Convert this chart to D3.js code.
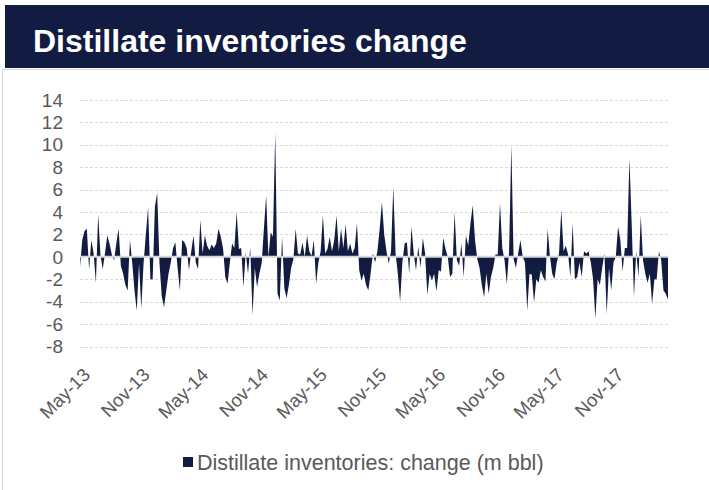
<!DOCTYPE html>
<html lang="en">
<head>
  <meta charset="UTF-8">
  <title>Distillate inventories change</title>
  <script src="https://d3js.org/d3.v7.min.js"></script>
  <style>
    body {
      margin: 0;
      background: #fff;
      font-family: "Liberation Sans", Arial, sans-serif;
    }
    svg { display: block; }
    .grid line { stroke: #d9d9d9; stroke-dasharray: 3,2; }
    .tick-label { fill: #595959; }
  </style>
</head>
<body>
  <div id="chart"></div>

  <script>
    // Weekly change in US distillate stocks, m bbl (first week: 12 Apr 2013)
    const weeks2013 = [-0.9, 1.5, 2.3, 2.5, -1.1, 1.5, 0.3, -2.3, 3.8, 0.2, -1.1, 0.3, 1.9, 1.2, 0.2, -0.3, 1.2, 2.5, -0.8, -1.5,
      -2.5, -3, 1.5, -0.5, -3, -4.8, -0.6, -4.6, -0.6, 2, 4.4, -2, -2, 4.5, 5.7, -0.5, -3.5, -4.5];
    const weeks2014 = [-3, -1.5, -0.5, 0.8, 1.3, -1, -3, 1.5, 1.3, 0.8, -1.2, 0.5, 1.9, -0.5, -1.1, 3.3, 0.3, 1.9, 1.0, 0.6,
      1.1, 0.8, 1.2, 2.5, 1.8, 0.8, -1.8, -2.4, -0.5, 1.2, 0.8, 4.0, 0.7, 0.8, -2.7, 0.4, -1.5, 0.8, -5.2, -1,
      -2.7, -1.5, -0.6, 2.5, 5.5, 0, 2.2, 1.8, 11.1, -3.3, -3.9, 1.8];
    const weeks2015 = [-2.8, -3.7, -2.5, -1, -0.2, 2.5, 0.3, 0.2, 1.25, 0, 1.9, 0.5, 0.1, 1.5, -2.4, -0.5, 0.5, 3.7, 0.3, 0.7,
      1.8, 0.5, 1.5, 3.7, 0.5, 2.5, 0.8, 2.9, 0.5, 1.2, 0.3, 0.8, 3.0, -1.2, -2.1, -1.5, -2.5, -3, -1.5, 0.3,
      -0.5, 0.5, 2.5, 4.9, 2, 0.5, -0.6, 0.5, 6.25, 0.3, -1.5, -4];
    const weeks2016 = [-0.5, 1.2, 1.3, -1.5, 2.7, 0.3, -1.2, 0.9, -1, 1.7, 0.3, -3.4, -1.5, -2.1, -1.5, -3.1, -1.2, -1.3, 1.7, 0.7,
      0, -1.8, -1.5, 4, -0.3, -0.8, 1.2, -1.8, 1.9, 1.0, 3, 4.6, 1.5, -0.2, -1, -2.5, -3.6, -1.5, -3.3, -1.8,
      -1, 0.2, 0.2, 4.8, 0.8, -0.3, -2.4, 0.5, 10, -0.2, -1, 0.3, 1.5];
    const weeks2017 = [0, -0.5, -4.8, -1.5, -1.6, -4.1, -2, -2.3, -1.2, -1.8, -2.2, 2.5, 0, -1.5, -2, -0.5, 0.3, 4.2, 0.5, 1,
      0.2, -1.8, 3, -2, -1.8, -0.5, -1.8, 0.5, 0.3, 0.5, -0.5, -2, -5.5, -2, -2.5, -1, 0.3, -5.1, -1, -3,
      -0.5, 0, 2.7, 1.5, -1.3, 0.8, 0.8, 8.8, 3, -3.6, 0.5, -1.8];
    const weeks2018 = [3.7, -0.3, -1.5, -2.3, -1.5, -4.2, -2, -2, 0.5, -0.3, -3, -3.3, -3.8];

    const tickLabels = ["May-13", "Nov-13", "May-14", "Nov-14", "May-15", "Nov-15", "May-16", "Nov-16", "May-17", "Nov-17"];
    const yTicks = [-8, -6, -4, -2, 0, 2, 4, 6, 8, 10, 12, 14];

    const title = "Distillate inventories change";
    const seriesName = "Distillate inventories: change (m bbl)";

    const width = 709;
    const height = 490;
    const navy = "#121c42";

    const firstWeek = new Date(2013, 3, 12);
    const values = [].concat(weeks2013, weeks2014, weeks2015, weeks2016, weeks2017, weeks2018);
    const data = values.map((v, i) => ({ date: d3.timeDay.offset(firstWeek, i * 7), value: v }));

    const svg = d3.select("#chart")
      .append("svg")
      .attr("width", width)
      .attr("height", height);

    // frame + title bar
    svg.append("path")
      .attr("d", "M2.5,490 V69.5 H709")
      .attr("fill", "none")
      .attr("stroke", "#d9d9d9");

    svg.append("rect")
      .attr("x", 5)
      .attr("y", 5)
      .attr("width", width - 5)
      .attr("height", 63)
      .attr("fill", navy);

    svg.append("text")
      .attr("x", 33)
      .attr("y", 52)
      .attr("fill", "#fff")
      .attr("font-size", "32px")
      .attr("font-weight", "bold")
      .text(title);

    // scales
    const x = d3.scaleTime()
      .domain(d3.extent(data, d => d.date))
      .range([80, 668]);

    const y = d3.scaleLinear()
      .domain([-8, 14])
      .range([346.5, 100]);

    // gridlines
    svg.append("g")
      .attr("class", "grid")
      .selectAll("line")
      .data(yTicks.filter(t => t !== 0))
      .join("line")
      .attr("x1", 80)
      .attr("x2", 668)
      .attr("y1", d => Math.round(y(d)) + 0.5)
      .attr("y2", d => Math.round(y(d)) + 0.5);

    // y labels
    svg.append("g")
      .selectAll("text")
      .data(yTicks)
      .join("text")
      .attr("class", "tick-label")
      .attr("x", 63)
      .attr("y", d => y(d))
      .attr("dy", "0.35em")
      .attr("text-anchor", "end")
      .attr("font-size", "19px")
      .text(d => d);

    // area
    const area = d3.area()
      .x(d => x(d.date))
      .y0(y(0))
      .y1(d => y(d.value));

    svg.append("path")
      .datum(data)
      .attr("d", area)
      .attr("fill", navy);

    // zero line on top
    svg.append("line")
      .attr("x1", 80)
      .attr("x2", 668)
      .attr("y1", y(0))
      .attr("y2", y(0))
      .attr("stroke", "#d9d9d9")
      .attr("stroke-width", 2);

    // x labels
    const parseTick = d3.timeParse("%b-%y");
    svg.append("g")
      .selectAll("text")
      .data(tickLabels)
      .join("text")
      .attr("class", "tick-label")
      .attr("text-anchor", "end")
      .attr("font-size", "18.5px")
      .attr("transform", d => `translate(${x(parseTick(d)) + 5},${376}) rotate(-45)`)
      .text(d => d);

    // legend
    const legend = svg.append("g").attr("transform", "translate(183,462)");
    legend.append("rect")
      .attr("x", 0)
      .attr("y", -5)
      .attr("width", 10)
      .attr("height", 10)
      .attr("fill", navy);
    legend.append("text")
      .attr("class", "tick-label")
      .attr("x", 14)
      .attr("y", 0)
      .attr("dy", "0.35em")
      .attr("font-size", "21.5px")
      .text(seriesName);
  </script>
</body>
</html>
